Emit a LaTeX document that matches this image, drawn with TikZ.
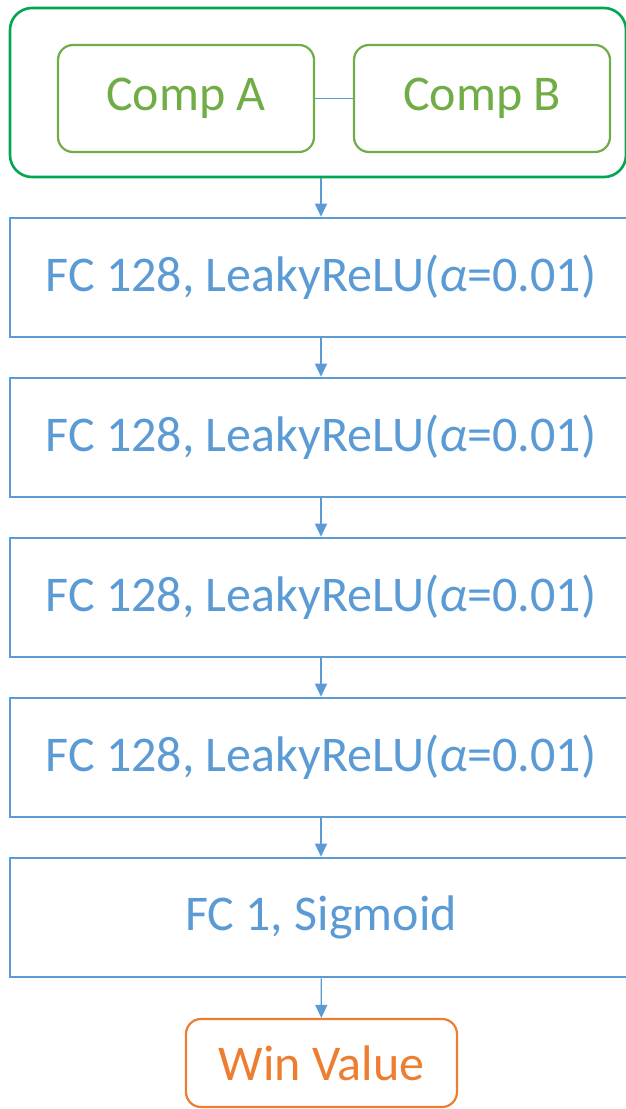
\documentclass[tikz,border=0pt]{standalone}
\usepackage{fontspec}
\setmainfont{Carlito}
\usetikzlibrary{arrows.meta}
\definecolor{fcblue}{RGB}{91,155,213}
\definecolor{grpgreen}{RGB}{0,166,80}
\definecolor{compgreen}{RGB}{112,173,71}
\definecolor{winorange}{RGB}{237,125,49}
\tikzset{
  layer/.style={draw=fcblue,line width=2.6pt,text=fcblue,minimum width=622pt,minimum height=119pt,font=\fontsize{50}{56}\selectfont},
  comp/.style={draw=compgreen,line width=2.2pt,rounded corners=15pt,text=compgreen,minimum width=256pt,minimum height=107pt,font=\fontsize{50}{56}\selectfont},
  flow/.style={draw=fcblue,line width=1.3pt,-{Triangle[width=12pt,length=13pt]}}
}
\begin{document}
\begin{tikzpicture}[x=1pt,y=-1pt]
    \useasboundingbox (0,0) rectangle (626,1109);
    \node[draw=grpgreen,line width=2.6pt,rounded corners=22pt,minimum width=616pt,minimum height=169pt] (grp) at (318,92.5) {};
    \node[comp] (compA) at (186,98.5) {Comp A};
    \node[comp] (compB) at (482,98.5) {Comp B};
    \node[layer] (fc1) at (321,277.5) {FC 128, LeakyReLU(\textit{α}=0.01)};
    \node[layer] (fc2) at (321,437.5) {FC 128, LeakyReLU(\textit{α}=0.01)};
    \node[layer] (fc3) at (321,597.5) {FC 128, LeakyReLU(\textit{α}=0.01)};
    \node[layer] (fc4) at (321,757.5) {FC 128, LeakyReLU(\textit{α}=0.01)};
    \node[layer] (fc5) at (321,917.5) {FC 1, Sigmoid};
    \node[draw=winorange,line width=2.2pt,rounded corners=15pt,text=winorange,minimum width=271pt,minimum height=88pt,font=\fontsize{50}{56}\selectfont] (win) at (321.5,1063) {Win Value};
    \draw[draw=fcblue,line width=1.3pt] (compA) -- (compB);
    \draw[flow] (grp.south -| fc1) -- (fc1);
    \draw[flow] (fc1) -- (fc2);
    \draw[flow] (fc2) -- (fc3);
    \draw[flow] (fc3) -- (fc4);
    \draw[flow] (fc4) -- (fc5);
    \draw[flow] (fc5) -- (win);
\end{tikzpicture}
\end{document}
